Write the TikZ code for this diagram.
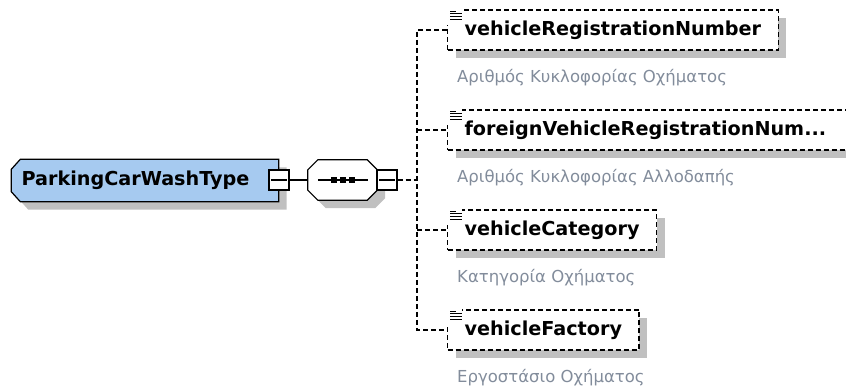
\documentclass[tikz,border=0pt]{standalone}
\usepackage{fontspec}
\setmainfont{DejaVu Sans}
\usepackage{tikz}
\usetikzlibrary{ backgrounds, positioning, shadows }
\definecolor{typeblue}{RGB}{166,202,240}
\definecolor{shadowgray}{RGB}{192,192,192}
\definecolor{docgray}{RGB}{130,140,155}
\tikzset{
x=1pt, y=-1pt, % one unit is one pixel, y runs downwards
every node/.style={inner sep=0pt},
conn/.style={line width=1.2pt, dash pattern=on 5pt off 3pt}, % dashed branches of the sequence
boxshadow/.style={drop shadow={shadow xshift=8pt, shadow yshift=-8pt, fill=shadowgray, opacity=1}},
pathshadow/.style={preaction={fill=shadowgray, transform canvas={xshift=8pt, yshift=-8pt}}},
ctype/.style={minimum width=267pt, minimum height=42pt, text width=247pt, align=left,
  font=\fontsize{19.2}{23}\selectfont\bfseries},
seqbox/.style={minimum width=69pt, minimum height=40pt},
minusbox/.style={draw, fill=white, line width=1.2pt, minimum size=20pt},
elem/.style={draw, conn, fill=white, boxshadow, minimum height=40pt, inner xsep=17pt, anchor=west,
  font=\fontsize{19.2}{23}\selectfont\bfseries},
doc/.style={text=docgray, font=\fontsize{16.5}{20}\selectfont},
}

\begin{document}
\begin{tikzpicture}
  \path[use as bounding box, clip] (0,0) rectangle (846,387);
  \node[ctype] (pcwt) at (145,180.5) {ParkingCarWashType};
  \node[minusbox] (pcwtminus) at (279,180) {};
  \node[seqbox] (seq) at (342.5,180) {};
  \node[minusbox] (seqminus) at (387,180) {};
  \coordinate (fork) at (417,180);
  \begin{scope}[on background layer]
    \draw[line width=1.2pt, fill=typeblue, pathshadow] ([xshift=9pt]pcwt.north west) -- (pcwt.north east)
      -- (pcwt.south east) -- ([xshift=9pt]pcwt.south west) -- ([yshift=10pt]pcwt.south west)
      -- ([yshift=-10pt]pcwt.north west) -- cycle;
    \draw[line width=1.2pt, fill=white, pathshadow] ([xshift=10pt]seq.north west) -- ([xshift=-10pt]seq.north east)
      -- ([yshift=-10pt]seq.north east) -- ([yshift=10pt]seq.south east) -- ([xshift=-10pt]seq.south east)
      -- ([xshift=10pt]seq.south west) -- ([yshift=10pt]seq.south west) -- ([yshift=-10pt]seq.north west) -- cycle;
  \end{scope}
  % elements of the sequence
  \node[elem] (regno) at (447,30) {vehicleRegistrationNumber};
  \node[elem, text width=375pt, align=left] (foreignno) at (447,130) {foreignVehicleRegistrationNum...};
  \node[elem] (category) at (447,230) {vehicleCategory};
  \node[elem] (factory) at (447,330) {vehicleFactory};
  \foreach \e/\d in {regno/{Αριθμός Κυκλοφορίας Οχήματος}, foreignno/{Αριθμός Κυκλοφορίας Αλλοδαπής},
      category/{Κατηγορία Οχήματος}, factory/{Εργοστάσιο Οχήματος}} {
    \node[doc, below right=19pt and 10pt of \e.south west] (\e-doc) {\d};
    \fill[white] ([xshift=-1pt,yshift=1pt]\e.north west) rectangle ++(16,17);
    \draw[line width=1pt] ([xshift=3pt,yshift=-2pt]\e.north west) -- ++(6,0)
      ([xshift=3pt,yshift=-4.6pt]\e.north west) -- ++(12,0)
      ([xshift=3pt,yshift=-7.2pt]\e.north west) -- ++(12,0)
      ([xshift=3pt,yshift=-9.8pt]\e.north west) -- ++(12,0);
  }
  \foreach \m in {pcwtminus,seqminus}
    \draw[line width=1.2pt] ([xshift=3pt]\m.west) -- ([xshift=-3pt]\m.east);
  \draw[line width=1.2pt] ([xshift=10pt]seq.west) -- ([xshift=-9pt]seq.east);
  \foreach \dx in {-9,0,9}
    \fill ([xshift=\dx pt]seq.center) +(-3,-3) rectangle +(3,3);
  % connectors
  \draw[line width=1.2pt] (pcwtminus) -- (seq);
  \draw[conn] (seqminus) -- (fork);
  \draw[conn] (regno.west) -| (fork) |- (factory.west);
  \foreach \e in {foreignno,category}
    \draw[conn] (fork |- \e.west) -- (\e.west);
\end{tikzpicture}
\end{document}
